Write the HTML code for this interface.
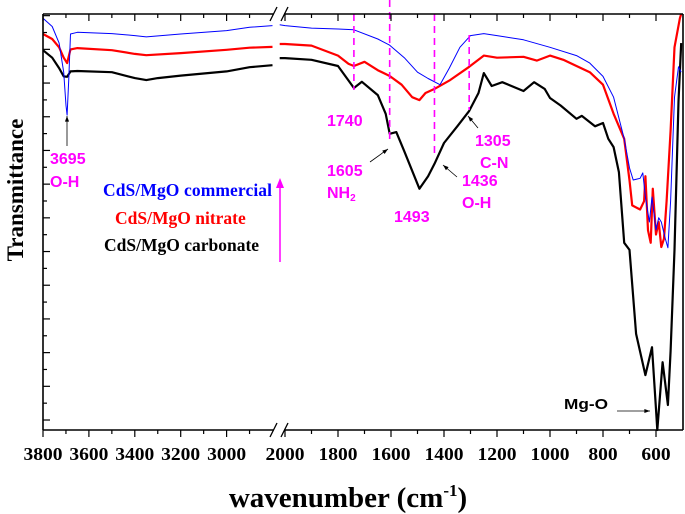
<!DOCTYPE html>
<html><head><meta charset="utf-8"><style>
html,body{margin:0;padding:0;background:#fff;}
svg{display:block;font-family:"Liberation Serif",serif;}
.lab{font-family:"Liberation Sans",sans-serif;font-weight:bold;fill:#ff00ff;font-size:16px;}
</style></head><body>
<svg id="chart" width="685" height="514" viewBox="0 0 685 514">
<g id="marks"></g>
<g id="axes"></g>
<text x="0" y="0" transform="translate(23,190) rotate(-90)" text-anchor="middle" font-weight="bold" font-size="23">Transmittance</text>
<text x="348" y="507" text-anchor="middle" font-weight="bold" font-size="29">wavenumber (cm<tspan dy="-11" font-size="17">-1</tspan><tspan dy="11">)</tspan></text>
<g font-weight="bold" font-size="17.5">
<text x="103" y="196" fill="#0000ff" textLength="169">CdS/MgO commercial</text>
<text x="115" y="224" fill="#ff0000">CdS/MgO nitrate</text>
<text x="104" y="251" fill="#000">CdS/MgO carbonate</text>
</g>
<g><line x1="280" y1="262" x2="280" y2="186" stroke="#ff00ff" stroke-width="1.5"/><polygon points="276,188 280,178 284,188" fill="#ff00ff"/></g>
<g>
<text class="lab" x="50" y="164">3695</text>
<text class="lab" x="50" y="187">O-H</text>
<text class="lab" x="327" y="126">1740</text>
<text class="lab" x="327" y="176">1605</text>
<text class="lab" x="327" y="198">NH<tspan font-size="10" dy="3">2</tspan></text>
<text class="lab" x="394" y="222">1493</text>
<text class="lab" x="462" y="186">1436</text>
<text class="lab" x="462" y="208">O-H</text>
<text class="lab" x="475" y="146">1305</text>
<text class="lab" x="480" y="168">C-N</text>
<text x="564" y="409" font-family="Liberation Sans,sans-serif" font-weight="bold" font-size="15" textLength="44" lengthAdjust="spacingAndGlyphs">Mg-O</text>
</g>
</svg>
<script>
const blueLeft=[[3800,99.0],[3760,97],[3730,93],[3710,86],[3700,78],[3695,75.7],[3688,84],[3680,95.2],[3650,95.6],[3500,95.3],[3400,94.8],[3350,94.5],[3200,95.2],[3000,96],[2900,96.8],[2800,97.2]];
const blueRight=[[2020,97.4],[2000,97.2],[1900,96.6],[1800,96.4],[1740,96.2],[1650,94],[1605,92.5],[1550,89.5],[1500,86],[1460,84.5],[1415,83],[1380,87],[1340,92],[1300,94.8],[1250,95.3],[1200,94.8],[1100,93.8],[1000,92],[900,90],[850,88.2],[800,85],[760,80],[720,70],[700,63],[686,60.1],[660,60.5],[650,61.8],[640,56],[625,50],[615,56],[600,48.1],[590,51],[580,50],[565,46],[555,43.8],[545,55],[530,80],[515,87.3],[505,86]];
const redLeft=[[3800,95.2],[3760,94],[3730,92],[3710,89.5],[3695,88.2],[3680,91.5],[3650,91.8],[3500,91.3],[3400,90.4],[3350,90.1],[3200,90.6],[3000,91.4],[2900,91.9],[2800,92.1]];
const redRight=[[2020,92.8],[2000,92.8],[1900,92.4],[1800,90],[1760,88],[1740,87.5],[1700,88.5],[1650,86.5],[1605,85.1],[1560,83],[1520,80],[1493,79.3],[1470,81],[1436,82],[1380,84],[1305,87.3],[1250,90],[1200,89.5],[1100,89.7],[1050,88.8],[1000,90],[950,89],[900,87.5],[850,86],[800,83],[760,76],[720,70],[700,60],[690,54],[660,53],[645,55],[640,61],[630,48],[620,45],[612,58],[600,47],[590,50],[580,44],[570,46],[560,55],[545,72],[530,92],[510,99],[505,100]];
const blackLeft=[[3800,91.3],[3760,89.5],[3730,87],[3710,85],[3695,84.9],[3680,86.2],[3650,86.3],[3500,86],[3400,84.6],[3350,84.1],[3300,84.6],[3200,85.2],[3000,86.2],[2900,87.2],[2800,87.7]];
const blackRight=[[2020,89.4],[2000,89.4],[1900,89],[1800,87.5],[1760,84],[1740,82.2],[1710,83.7],[1650,80.5],[1620,76],[1605,71.2],[1580,71.6],[1550,67],[1493,58],[1460,61],[1436,64],[1400,69],[1350,73],[1305,76.7],[1270,81],[1250,85.8],[1220,82.7],[1180,83.6],[1100,81.5],[1060,83.6],[1020,82],[1000,79.8],[960,78],[900,74.8],[880,75.5],[830,73],[800,73.8],[780,70],[760,68],[740,62],[720,45],[700,43.3],[675,23.1],[640,13.2],[615,19.9],[600,5],[595,0],[575,16.3],[555,6],[545,19],[530,43.3],[515,79],[505,93]];
const leftTicks=[3800,3600,3400,3200,3000];
const rightTicks=[2000,1800,1600,1400,1200,1000,800,600];
const markers=[1740,1605,1436,1305];
const NS="http://www.w3.org/2000/svg";
const L=43,R=683,T=14,B=430,BRK=279;
function xs(w){return w>=2400? L+(3800-w)*0.2295 : 285+(2000-w)*0.265;}
function ys(v){return B-v*4.16;}
function mk(tag,attrs,parent){const e=document.createElementNS(NS,tag);for(const k in attrs)e.setAttribute(k,attrs[k]);parent.appendChild(e);return e;}
const marks=document.getElementById('marks'),axes=document.getElementById('axes');
function line(data,color,w,name){
  const p=mk('path',{d:data.map((d,i)=>(i?'L':'M')+xs(d[0]).toFixed(1)+','+ys(d[1]).toFixed(1)).join(''),fill:'none',stroke:color,'stroke-width':w,'stroke-linejoin':'round'},marks);
  
  
}
line(blackLeft,'#000',2.2,'carbonate-line-left');line(blackRight,'#000',2.2,'carbonate-line-right');
line(redLeft,'#ff0000',2.2,'nitrate-line-left');line(redRight,'#ff0000',2.2,'nitrate-line-right');
line(blueLeft,'#0000ff',1,'commercial-line-left');line(blueRight,'#0000ff',1,'commercial-line-right');
const ends={1740:[14,90],1605:[0,140],1436:[14,157],1305:[35,110]};
markers.forEach(m=>{const l=mk('line',{x1:xs(m),x2:xs(m),y1:ends[m][0],y2:ends[m][1],stroke:'#ff00ff','stroke-width':1.6,'stroke-dasharray':'7,5'},marks);

});
function arrow(x1,y1,x2,y2,name){const g=mk('g',{},marks);


mk('line',{x1,y1,x2,y2,stroke:'#000','stroke-width':0.8},g);
const a=Math.atan2(y2-y1,x2-x1),s=6;
mk('polygon',{points:`${x2},${y2} ${x2-s*Math.cos(a-0.35)},${y2-s*Math.sin(a-0.35)} ${x2-s*Math.cos(a+0.35)},${y2-s*Math.sin(a+0.35)}`,fill:'#000'},g);}
arrow(67,146,67,116,'arrow-3695');arrow(370,162,388,149,'arrow-1605');arrow(457,177,443,165,'arrow-1436');arrow(478,128,468,116,'arrow-1305');arrow(617,411,650,411,'arrow-mgo');
const st={stroke:'#000','stroke-width':1.6};
mk('line',Object.assign({x1:L,y1:T,x2:L,y2:B},st),axes);
mk('line',Object.assign({x1:R,y1:T,x2:R,y2:B},st),axes);
[T,B].forEach(y=>{mk('line',Object.assign({x1:L,y1:y,x2:BRK-5,y2:y},st),axes);mk('line',Object.assign({x1:BRK+5,y1:y,x2:R,y2:y},st),axes);
mk('line',{x1:BRK-9,y1:y+7,x2:BRK-2,y2:y-7,stroke:'#000','stroke-width':1.3},axes);mk('line',{x1:BRK+2,y1:y+7,x2:BRK+9,y2:y-7,stroke:'#000','stroke-width':1.3},axes);});
function xtick(w,major){const x=xs(w);const len=major?7:4;
mk('line',{x1:x,x2:x,y1:B,y2:B+len,stroke:'#000','stroke-width':1.2},axes);
mk('line',{x1:x,x2:x,y1:T,y2:T+len,stroke:'#000','stroke-width':1.2},axes);
if(major){const t=mk('text',{x:x,y:460,'text-anchor':'middle','font-weight':'bold','font-size':'18',textLength:String(String(w).length*9.75),lengthAdjust:'spacingAndGlyphs'},axes);t.textContent=w;

}}
leftTicks.forEach(w=>{xtick(w,true);xtick(w-100,false);});
rightTicks.forEach(w=>{xtick(w,true);if(w-100>500)xtick(w-100,false);});
for(let k=0;k<=12;k++){const v=2.4+8.1*k;if(v>99.9)break;const y=ys(v);
mk('line',{x1:L,x2:L+7,y1:y,y2:y,stroke:'#000','stroke-width':1.2},axes);
const v2=v+4.05;if(v2<100){const y2=ys(v2);mk('line',{x1:L,x2:L+4,y1:y2,y2:y2,stroke:'#000','stroke-width':1.2},axes);}}
</script>
</body></html>
